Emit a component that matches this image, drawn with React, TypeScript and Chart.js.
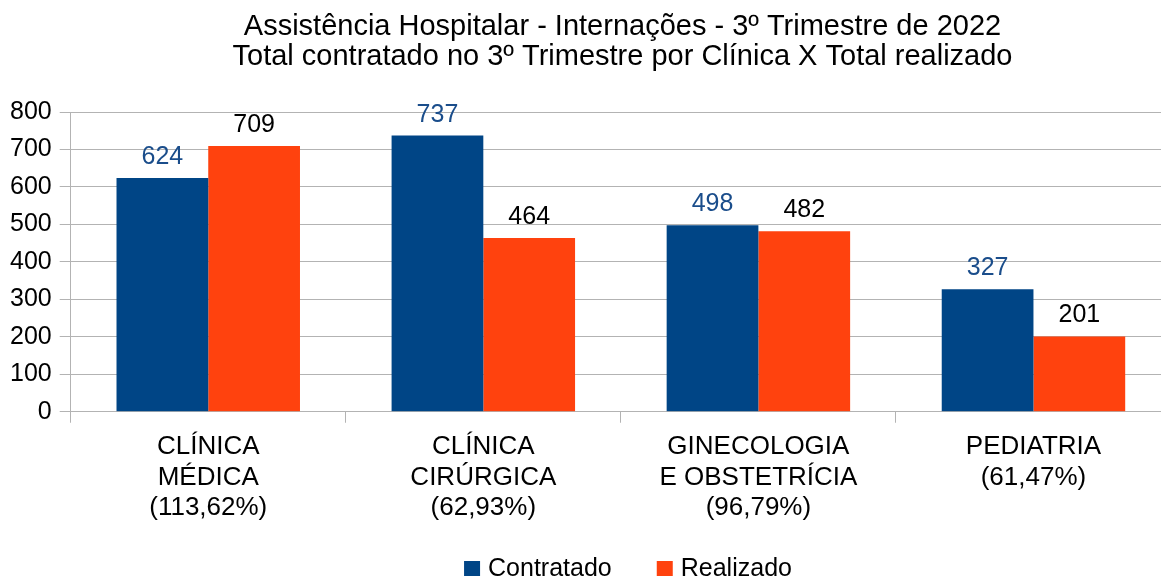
import React, { useEffect, useRef } from "react";
import { Chart, registerables } from "chart.js";

Chart.register(...registerables);

const titleLines = [
  "Assistência Hospitalar - Internações - 3º Trimestre de 2022",
  "Total contratado no 3º Trimestre por Clínica X Total realizado",
];
const categories = [
  ["CLÍNICA", "MÉDICA", "(113,62%)"],
  ["CLÍNICA", "CIRÚRGICA", "(62,93%)"],
  ["GINECOLOGIA", "E OBSTETRÍCIA", "(96,79%)"],
  ["PEDIATRIA", "(61,47%)"],
];
const contratado = [624, 737, 498, 327];
const realizado = [709, 464, 482, 201];
const seriesNames = ["Contratado", "Realizado"];
const yTicks = { min: 0, max: 800, step: 100 };

const FONT = "'Liberation Sans', Arial, sans-serif";
const BLUE = "#004586";
const ORANGE = "#ff420e";
const SERIES_COLORS = [BLUE, ORANGE];
const LABEL_COLORS = ["#1a4d8b", "#000000"];
const GRID = "#b3b3b3";

const valueLabels = {
  id: "valueLabels",
  afterDatasetsDraw(chart: any) {
    const ctx = chart.ctx;
    ctx.save();
    ctx.font = `25px ${FONT}`;
    ctx.textAlign = "center";
    ctx.textBaseline = "alphabetic";
    chart.data.datasets.forEach((ds: any, di: number) => {
      const meta = chart.getDatasetMeta(di);
      ctx.fillStyle = LABEL_COLORS[di];
      meta.data.forEach((bar: any, i: number) => {
        ctx.fillText(String(ds.data[i]), bar.x, bar.y - 14);
      });
    });
    ctx.restore();
  },
};

const customTitle = {
  id: "customTitle",
  afterDraw(chart: any) {
    const ctx = chart.ctx;
    ctx.save();
    ctx.font = `29px ${FONT}`;
    ctx.fillStyle = "#000";
    ctx.textAlign = "center";
    ctx.textBaseline = "alphabetic";
    const cx = chart.width / 2 + 1.5;
    titleLines.forEach((t, i) => ctx.fillText(t, cx, 35 + i * 29.5));
    ctx.restore();
  },
};

const customLegend = {
  id: "customLegend",
  afterDraw(chart: any) {
    const ctx = chart.ctx;
    ctx.save();
    ctx.font = `25px ${FONT}`;
    const box = 16;
    const gap = 8;
    const between = 45;
    const widths = seriesNames.map((n) => ctx.measureText(n).width);
    const total = widths.reduce((a, w) => a + box + gap + w, 0) + between * (seriesNames.length - 1);
    let x = chart.width / 2 + 7 - total / 2;
    const cy = chart.height - 9.5;
    ctx.textBaseline = "middle";
    ctx.textAlign = "left";
    seriesNames.forEach((n, i) => {
      ctx.fillStyle = SERIES_COLORS[i];
      ctx.fillRect(x, cy - 7.5, box, 15);
      ctx.fillStyle = "#000";
      ctx.fillText(n, x + box + gap, cy + 1);
      x += box + gap + widths[i] + between;
    });
    ctx.restore();
  },
};

export default function App() {
  const ref = useRef<HTMLCanvasElement>(null);
  useEffect(() => {
    if (!ref.current) return;
    const chart = new Chart(ref.current, {
      type: "bar",
      data: {
        labels: categories,
        datasets: [
          { label: seriesNames[0], data: contratado, backgroundColor: BLUE, categoryPercentage: 0.667, barPercentage: 1 },
          { label: seriesNames[1], data: realizado, backgroundColor: ORANGE, categoryPercentage: 0.667, barPercentage: 1 },
        ],
      },
      options: {
        responsive: false,
        animation: false,
        devicePixelRatio: 1,
        layout: { padding: { left: 2, right: 71, top: 112, bottom: 46 } },
        plugins: {
          title: { display: false },
          legend: { display: false },
          tooltip: { enabled: false },
        },
        scales: {
          x: {
            grid: { display: true, drawOnChartArea: false, drawTicks: true, tickLength: 11, color: GRID },
            border: { color: GRID },
            ticks: { color: "#000", font: { family: FONT, size: 26, lineHeight: 1.17 }, padding: 9, maxRotation: 0 },
          },
          y: {
            min: yTicks.min,
            max: yTicks.max,
            grid: { color: GRID, tickLength: 11 },
            border: { color: GRID },
            ticks: { stepSize: yTicks.step, color: "#000", font: { family: FONT, size: 25 }, padding: 8 },
          },
        },
      },
      plugins: [valueLabels, customTitle, customLegend],
    });
    return () => chart.destroy();
  }, []);
  return (
    <div style={{ position: "fixed", left: 0, top: 0, width: 1161, height: 578, overflow: "hidden", background: "#fff" }}>
      <canvas ref={ref} width={1242} height={578} style={{ width: 1242, height: 578, display: "block" }} />
    </div>
  );
}
